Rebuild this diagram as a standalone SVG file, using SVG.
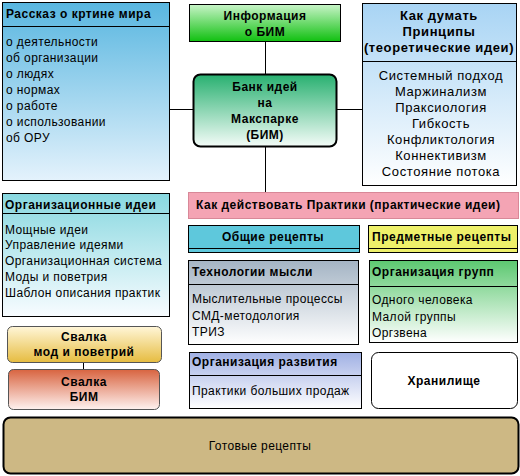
<svg xmlns="http://www.w3.org/2000/svg" width="520" height="476" viewBox="0 0 520 476">
<defs>
<linearGradient id="gBlue1" x1="0" y1="0" x2="0" y2="1"><stop offset="0" stop-color="#58b6e0"/><stop offset="1" stop-color="#e4f2fc"/></linearGradient>
<linearGradient id="gInfo" x1="0" y1="0" x2="0" y2="1"><stop offset="0" stop-color="#c8f4c8"/><stop offset="1" stop-color="#10c010"/></linearGradient>
<linearGradient id="gBank" x1="0" y1="0" x2="0" y2="1"><stop offset="0" stop-color="#28b070"/><stop offset="1" stop-color="#f4fcf8"/></linearGradient>
<linearGradient id="gThink" x1="0" y1="0" x2="0" y2="1"><stop offset="0" stop-color="#a8d4f4"/><stop offset="1" stop-color="#ffffff"/></linearGradient>
<linearGradient id="gOrg" x1="0" y1="0" x2="0" y2="1"><stop offset="0" stop-color="#88d8e0"/><stop offset="1" stop-color="#f8fcff"/></linearGradient>
<linearGradient id="gTech" x1="0" y1="0" x2="0" y2="1"><stop offset="0" stop-color="#a4b4c4"/><stop offset="1" stop-color="#ffffff"/></linearGradient>
<linearGradient id="gGrp" x1="0" y1="0" x2="0" y2="1"><stop offset="0" stop-color="#5cc870"/><stop offset="1" stop-color="#ffffff"/></linearGradient>
<linearGradient id="gDev" x1="0" y1="0" x2="0" y2="1"><stop offset="0" stop-color="#a0b0e4"/><stop offset="1" stop-color="#ffffff"/></linearGradient>
<linearGradient id="gGold" x1="0" y1="0" x2="0" y2="1"><stop offset="0" stop-color="#fff6d8"/><stop offset="1" stop-color="#e6bc40"/></linearGradient>
<linearGradient id="gRed" x1="0" y1="0" x2="0" y2="1"><stop offset="0" stop-color="#d86440"/><stop offset="1" stop-color="#fff2f0"/></linearGradient>
</defs>
<style>
.b{stroke:#000;stroke-width:1}
.t{font-family:"Liberation Sans",Arial,sans-serif;font-size:12px;fill:#000;letter-spacing:0.4px}
.h{font-family:"Liberation Sans",Arial,sans-serif;font-size:12px;font-weight:bold;fill:#000;letter-spacing:0.5px}
.big{font-size:13px;letter-spacing:0.6px}
.c{text-anchor:middle}
.ln{stroke:#000;stroke-width:1;fill:none}
</style>
<g id="connectors">
<line class="ln" x1="265.5" y1="42" x2="265.5" y2="74"/>
<line class="ln" x1="170" y1="109.5" x2="193" y2="109.5"/>
<line class="ln" x1="337" y1="109.5" x2="362" y2="109.5"/>
<line class="ln" x1="265.5" y1="147" x2="265.5" y2="192"/>
<line class="ln" x1="83.5" y1="362" x2="83.5" y2="369"/>
</g>
<g id="story">
<rect class="b" x="2.5" y="2.5" width="167" height="178" fill="url(#gBlue1)"/>
<line class="ln" x1="2.5" y1="26.5" x2="169.5" y2="26.5"/>
<text class="h" x="6" y="18">Рассказ о кртине мира</text>
<text class="t" x="6" y="46">о деятельности</text>
<text class="t" x="6" y="62">об организации</text>
<text class="t" x="6" y="78">о людях</text>
<text class="t" x="6" y="94">о нормах</text>
<text class="t" x="6" y="110">о работе</text>
<text class="t" x="6" y="126">о использовании</text>
<text class="t" x="6" y="142">об ОРУ</text>
</g>
<g id="info">
<rect class="b" x="189.5" y="4.5" width="151" height="37" fill="url(#gInfo)"/>
<text class="h c" x="265" y="20">Информация</text>
<text class="h c" x="265" y="36">о БИМ</text>
</g>
<g id="bank">
<rect x="193.5" y="74.5" width="143" height="72" rx="7" fill="url(#gBank)" stroke="#000" stroke-width="2"/>
<text class="h c" x="265" y="91">Банк идей</text>
<text class="h c" x="265" y="107">на</text>
<text class="h c" x="265" y="123">Макспарке</text>
<text class="h c" x="265" y="139">(БИМ)</text>
</g>
<g id="think">
<rect class="b" x="362.5" y="3.5" width="154" height="182" fill="url(#gThink)"/>
<line class="ln" x1="362.5" y1="61.5" x2="516.5" y2="61.5"/>
<text class="h big c" x="439" y="20">Как думать</text>
<text class="h big c" x="439" y="36">Принципы</text>
<text class="h big c" x="439" y="52">(теоретические идеи)</text>
<text class="t big c" x="441" y="80">Системный подход</text>
<text class="t big c" x="441" y="96">Маржинализм</text>
<text class="t big c" x="441" y="112">Праксиология</text>
<text class="t big c" x="441" y="128">Гибкость</text>
<text class="t big c" x="441" y="144">Конфликтология</text>
<text class="t big c" x="441" y="160">Коннективизм</text>
<text class="t big c" x="441" y="176">Состояние потока</text>
</g>
<g id="orgideas">
<rect class="b" x="2.5" y="193.5" width="167" height="123" fill="url(#gOrg)"/>
<line class="ln" x1="2.5" y1="213.5" x2="169.5" y2="213.5"/>
<text class="h" x="5" y="209">Организационные идеи</text>
<text class="t" x="5" y="234">Мощные идеи</text>
<text class="t" x="5" y="249">Управление идеями</text>
<text class="t" x="5" y="265">Организационная система</text>
<text class="t" x="5" y="281">Моды и поветрия</text>
<text class="t" x="5" y="297">Шаблон описания практик</text>
</g>
<g id="practice">
<rect x="188.5" y="192.5" width="330" height="26" fill="#f4a4b4" stroke="#d88898" stroke-width="1"/>
<text class="h" x="196" y="209">Как действовать Практики (практические идеи)</text>
</g>
<g id="general">
<rect class="b" x="188.5" y="225.5" width="171" height="27" fill="#5ec8dc"/>
<line class="ln" x1="188.5" y1="248.5" x2="359.5" y2="248.5"/>
<text class="h c" x="273" y="241">Общие рецепты</text>
</g>
<g id="subject">
<rect class="b" x="368.5" y="225.5" width="149" height="27" fill="#eef06a"/>
<line class="ln" x1="368.5" y1="248.5" x2="517.5" y2="248.5"/>
<text class="h" x="372" y="241">Предметные рецепты</text>
</g>
<g id="tech">
<rect class="b" x="188.5" y="260.5" width="170" height="84" fill="url(#gTech)"/>
<line class="ln" x1="188.5" y1="284.5" x2="358.5" y2="284.5"/>
<text class="h" x="192" y="276">Технологии мысли</text>
<text class="t" x="192" y="303">Мыслительные процессы</text>
<text class="t" x="192" y="320">СМД-методология</text>
<text class="t" x="192" y="336">ТРИЗ</text>
</g>
<g id="groups">
<rect class="b" x="369.5" y="260.5" width="148" height="82" fill="url(#gGrp)"/>
<line class="ln" x1="369.5" y1="286.5" x2="517.5" y2="286.5"/>
<text class="h" x="372" y="276">Организация групп</text>
<text class="t" x="372" y="304">Одного человека</text>
<text class="t" x="372" y="321">Малой группы</text>
<text class="t" x="372" y="337">Оргзвена</text>
</g>
<g id="dev">
<rect class="b" x="189.5" y="352.5" width="172" height="56" fill="url(#gDev)"/>
<line class="ln" x1="189.5" y1="375.5" x2="361.5" y2="375.5"/>
<text class="h" x="192" y="366">Организация развития</text>
<text class="t" x="192" y="395">Практики больших продаж</text>
</g>
<g id="storage">
<rect x="371.5" y="352.5" width="146" height="56" rx="7" fill="#fff" stroke="#000" stroke-width="1"/>
<text class="h c" x="444" y="385">Хранилище</text>
</g>
<g id="dumpfads">
<rect x="7.5" y="326.5" width="154" height="36" rx="5" fill="url(#gGold)" stroke="#555" stroke-width="1"/>
<text class="h c" x="84" y="341">Свалка</text>
<text class="h c" x="84" y="356">мод и поветрий</text>
</g>
<g id="dumpbim">
<rect x="8.5" y="369.5" width="151" height="40" rx="5" fill="url(#gRed)" stroke="#555" stroke-width="1"/>
<text class="h c" x="84" y="386">Свалка</text>
<text class="h c" x="84" y="401">БИМ</text>
</g>
<g id="ready">
<rect x="3.5" y="417.5" width="515" height="56" rx="7" fill="#cdb884" stroke="#000" stroke-width="2"/>
<text class="t c" x="260" y="450">Готовые рецепты</text>
</g>
</svg>
